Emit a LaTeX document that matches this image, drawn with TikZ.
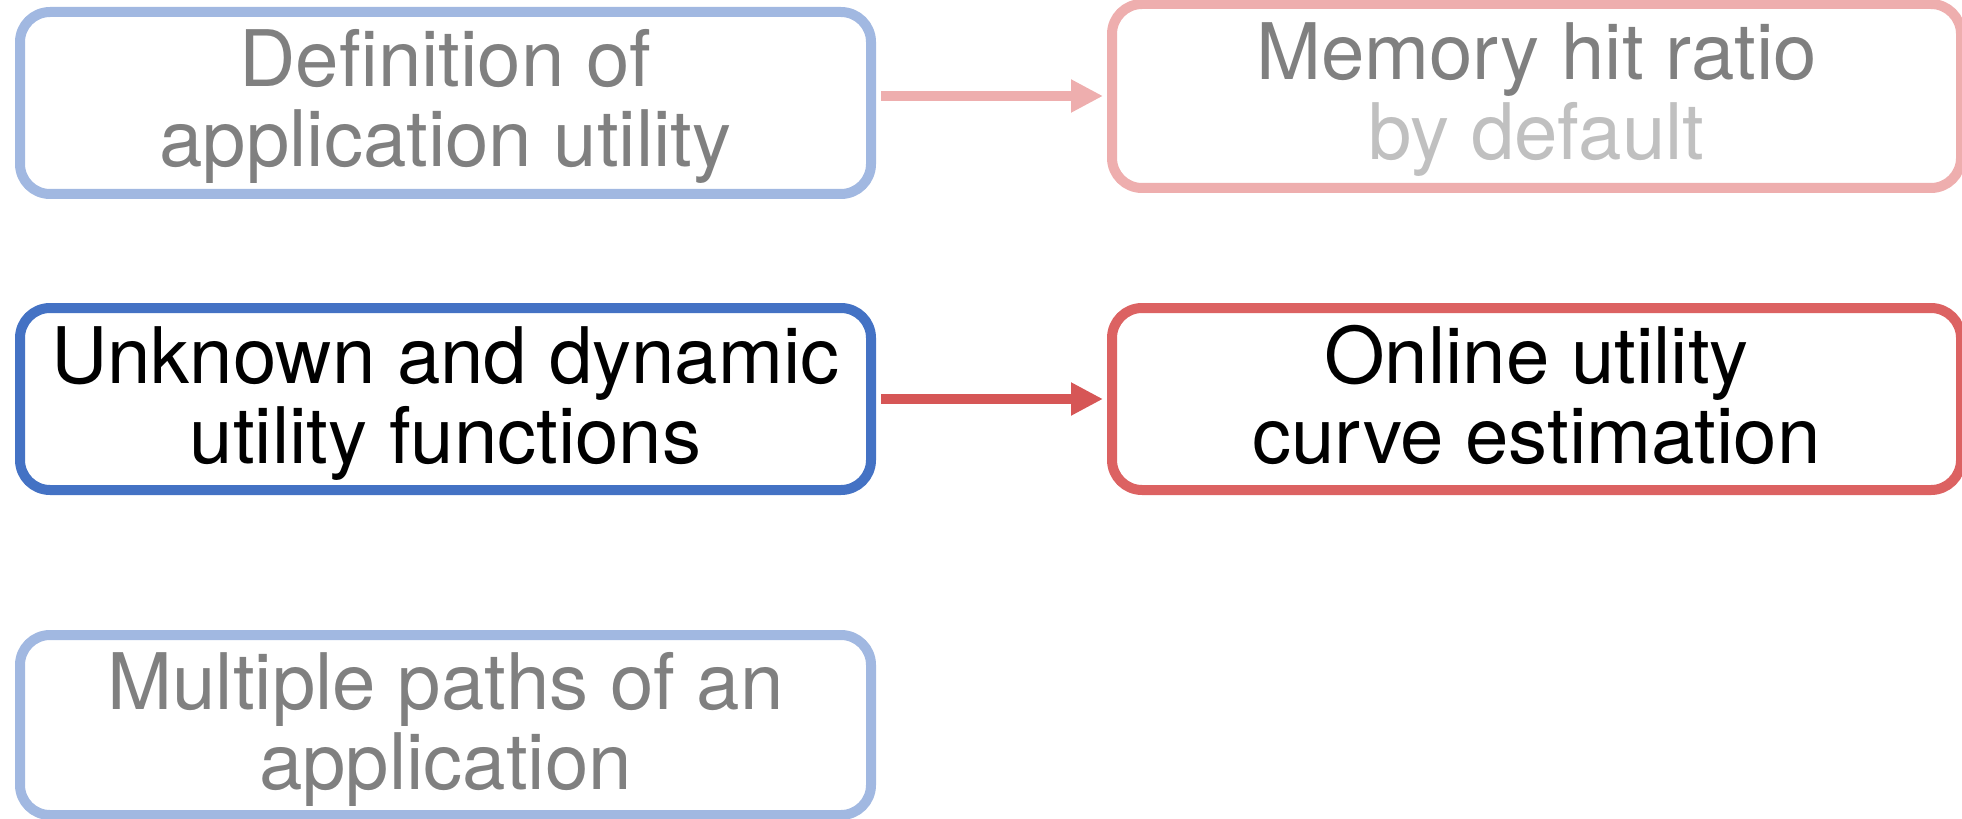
\documentclass[tikz,border=0pt]{standalone}
\usepackage{fontspec}
\setmainfont{TeX Gyre Heros}
\usetikzlibrary{arrows.meta}
\definecolor{lblue}{HTML}{A1B8E1}
\definecolor{dblue}{HTML}{4472C4}
\definecolor{lpink}{HTML}{EEAEAE}
\definecolor{dred}{HTML}{DC6262}
\definecolor{ared}{HTML}{D65656}
\definecolor{tgray}{HTML}{808080}
\definecolor{lgray}{HTML}{C0C0C0}
\newcommand\tstr{\rule{0pt}{34pt}}
\newcommand\bstr{\rule[-10pt]{0pt}{10pt}}
\begin{document}
\begin{tikzpicture}[x=0.5pt,y=-0.5pt,
  card/.style={draw, line width=5pt, rounded corners=15pt, fill=white,
    inner sep=0pt, outer sep=0pt, align=center,
    font=\fontsize{39pt}{40pt}\selectfont},
  arr/.style={line width=5pt, -{Triangle[length=16pt,width=15.5pt]},
    shorten <=5pt, shorten >=4.5pt}]
\useasboundingbox (0,0) rectangle (1962,818);
\node[card, draw=lblue, text=tgray, minimum width=425.5pt, minimum height=91pt]
  (A) at (445.5,103) {\tstr Definition of\\application utility\bstr};
\node[card, draw=lpink, text=tgray, minimum width=424.5pt, minimum height=92pt]
  (B) at (1536.5,96) {\tstr Memory hit ratio\\\textcolor{lgray}{by default}\bstr};
\node[card, draw=dblue, text=black, minimum width=425.5pt, minimum height=91pt]
  (C) at (445.5,399) {\tstr Unknown and dynamic\\utility functions\bstr};
\node[card, draw=dred, text=black, minimum width=424.5pt, minimum height=91pt]
  (D) at (1536.5,399) {\tstr Online utility\\curve estimation\bstr};
\node[card, draw=lblue, text=tgray, minimum width=425.5pt, minimum height=90pt]
  (E) at (445.5,725) {\tstr Multiple paths of an\\application\bstr};
\draw[arr, lpink] (A.east |- B.west) -- (B.west);
\draw[arr, ared] (C.east) -- (D.west);
\end{tikzpicture}
\end{document}
